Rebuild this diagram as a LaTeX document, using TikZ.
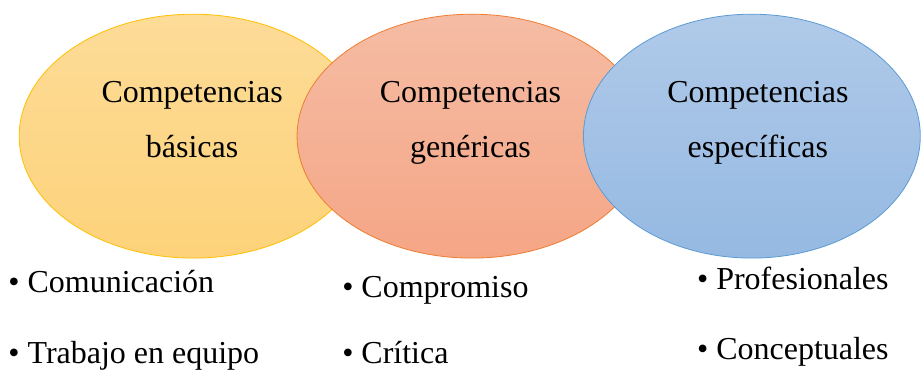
\documentclass[tikz,border=0pt]{standalone}
\usepackage{fontspec}
\setmainfont{Liberation Serif}
\usetikzlibrary{shapes.geometric}

\begin{document}
\begin{tikzpicture}[x=1pt,y=1pt,
  campo/.style={ellipse,inner sep=0pt,minimum width=#1,minimum height=244pt,line width=0.8pt},
  titulo/.style={align=center,anchor=base,inner sep=0pt,font=\fontsize{32}{55}\selectfont},
  punto/.style={anchor=base west,inner sep=0pt,text depth=0pt,font=\fontsize{32}{38}\selectfont}]
\filldraw[color=white] (0.000000, 0.000000) rectangle (921.000000, 370.000000);
% Drawing ellipses
\node[campo=348pt,draw={rgb,255:red,255;green,192;blue,0},top color={rgb,255:red,253;green,220;blue,152},bottom color={rgb,255:red,253;green,210;blue,122}] (cb) at (193.000000,234.000000) {};
\node[campo=350pt,draw={rgb,255:red,237;green,125;blue,49},top color={rgb,255:red,245;green,188;blue,164},bottom color={rgb,255:red,245;green,166;blue,134}] (cg) at (472.000000,234.000000) {};
\node[campo=337pt,draw={rgb,255:red,91;green,155;blue,213},top color={rgb,255:red,176;green,202;blue,233},bottom color={rgb,255:red,149;green,185;blue,226}] (ce) at (752.000000,234.000000) {};
% Titles (base = last line)
\node[titulo] (tb) at (192.000000,213.000000) {Competencias\\básicas};
\node[titulo] (tg) at (470.500000,213.000000) {Competencias\\genéricas};
\node[titulo] (te) at (758.000000,213.000000) {Competencias\\específicas};
% Lists below
\node[punto] (b1) at (8.000000,78.000000) {• Comunicación};
\node[punto] (b2) at (8.000000,7.000000) {• Trabajo en equipo};
\node[punto] (g1) at (342.000000,72.300000) {• Compromiso};
\node[punto] (g2) at (342.000000,7.000000) {• Crítica};
\node[punto] (e1) at (697.000000,80.700000) {• Profesionales};
\node[punto] (e2) at (697.000000,11.000000) {• Conceptuales};
\end{tikzpicture}
\end{document}
